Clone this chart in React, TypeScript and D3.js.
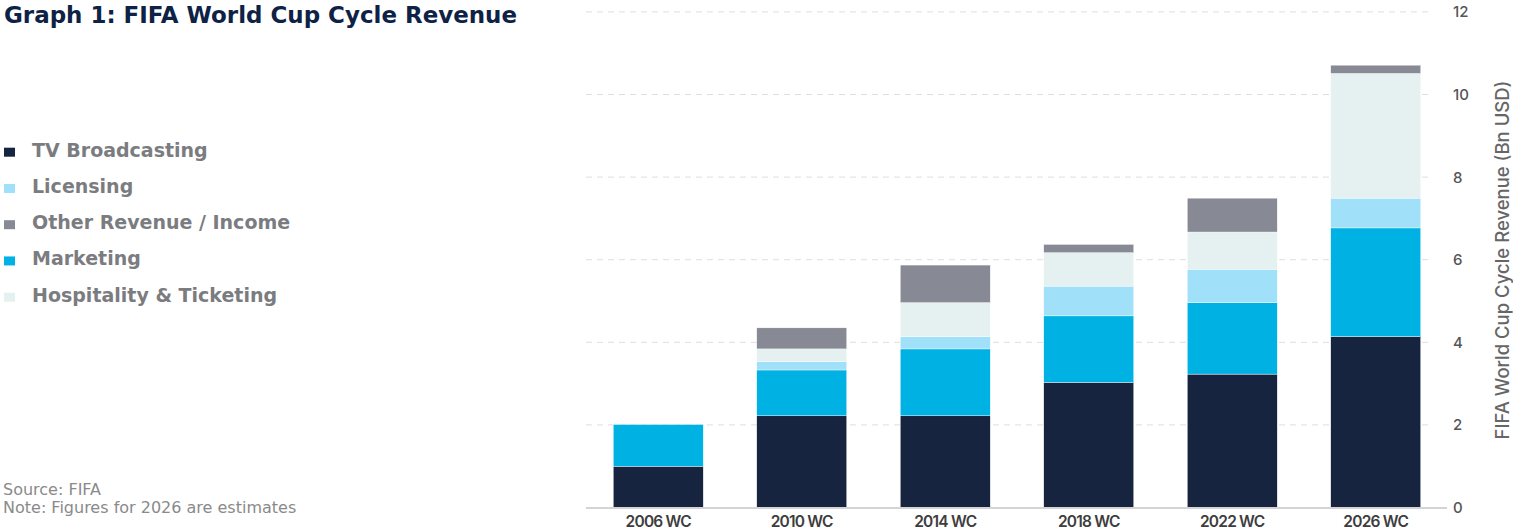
import React from 'react';
import * as d3 from 'd3';

const categories = ['2006 WC', '2010 WC', '2014 WC', '2018 WC', '2022 WC', '2026 WC'];
const tvBroadcasting = [1.0, 2.22, 2.22, 3.03, 3.23, 4.14];
const marketing = [1.01, 1.11, 1.62, 1.61, 1.73, 2.63];
const licensing = [0, 0.2, 0.3, 0.72, 0.81, 0.72];
const hospitality = [0, 0.31, 0.82, 0.81, 0.9, 3.02];
const otherRevenue = [0, 0.51, 0.91, 0.2, 0.82, 0.2];
const yTicks = [0, 2, 4, 6, 8, 10, 12];

// stacking order (bottom -> top)
const stackSeries = [
  { key: 'tv', values: tvBroadcasting, color: '#16243f' },
  { key: 'mkt', values: marketing, color: '#00b2e3' },
  { key: 'lic', values: licensing, color: '#a0e0f8' },
  { key: 'hosp', values: hospitality, color: '#e5f0f1' },
  { key: 'other', values: otherRevenue, color: '#878a94' },
];

const legendItems = [
  { label: 'TV Broadcasting', color: '#16243f' },
  { label: 'Licensing', color: '#a0e0f8' },
  { label: 'Other Revenue / Income', color: '#878a94' },
  { label: 'Marketing', color: '#00b2e3' },
  { label: 'Hospitality & Ticketing', color: '#e5f0f1' },
];

const W = 1513;
const H = 531;

const App = () => {
  const rows = categories.map((c, i) => {
    const r: any = { cat: c };
    stackSeries.forEach((s) => (r[s.key] = s.values[i]));
    return r;
  });
  const stacked = d3.stack().keys(stackSeries.map((s) => s.key))(rows);

  const x = d3
    .scaleBand()
    .domain(categories)
    .range([586, 1448])
    .paddingInner(0.373)
    .paddingOuter(0.19);
  const y = d3.scaleLinear().domain([0, 12]).range([507.5, 11.9]);

  return (
    <div style={{ position: 'absolute', left: 0, top: 0 }}>
      <svg width={W} height={H} style={{ display: 'block', background: '#fff' }}>
        <text
          x={4}
          y={23}
          fontFamily='DejaVu Sans'
          fontWeight='bold'
          fontSize={23}
          fill='#0e2245'
          textLength={513}
          lengthAdjust='spacingAndGlyphs'
        >
          Graph 1: FIFA World Cup Cycle Revenue
        </text>

        {legendItems.map((d, i) => {
          const by = 156.7 + i * 36.25;
          return (
            <g key={d.label}>
              <rect x={4} y={by - 9} width={11} height={9} fill={d.color} />
              <text
                x={32}
                y={by}
                fontFamily='DejaVu Sans'
                fontWeight='bold'
                fontSize={19}
                fill='#7b7c80'
              >
                {d.label}
              </text>
            </g>
          );
        })}

        <text x={3} y={495} fontFamily='DejaVu Sans' fontSize={16} fill='#8a8a8a'>
          Source: FIFA
        </text>
        <text x={3} y={513} fontFamily='DejaVu Sans' fontSize={16} fill='#8a8a8a'>
          Note: Figures for 2026 are estimates
        </text>

        {yTicks.slice(1).map((t) => (
          <line
            key={t}
            x1={586}
            x2={1432}
            y1={y(t)}
            y2={y(t)}
            stroke='#dedede'
            strokeWidth={1}
            strokeDasharray='6 5'
          />
        ))}

        {stacked.map((layer, li) => (
          <g key={layer.key} fill={stackSeries[li].color}>
            {layer.map((d, i) =>
              d[1] - d[0] > 0 ? (
                <rect
                  key={i}
                  x={x(categories[i])}
                  y={y(d[1])}
                  width={x.bandwidth()}
                  height={y(d[0]) - y(d[1])}
                  stroke='#ffffff'
                  strokeWidth={0.4}
                />
              ) : null
            )}
          </g>
        ))}

        <line x1={586} x2={1447} y1={508} y2={508} stroke='#d4d4d4' strokeWidth={2} />

        {categories.map((c) => (
          <text
            key={c}
            x={(x(c) as number) + x.bandwidth() / 2}
            y={527}
            textAnchor='middle'
            fontFamily='Inter'
            fontWeight={600}
            fontSize={15.5}
            fill='#3d3d3d'
            letterSpacing={-0.8}
          >
            {c}
          </text>
        ))}

        {yTicks.map((t) => (
          <text
            key={t}
            x={1453}
            y={y(t) + 5.5}
            fontFamily='Inter'
            fontWeight={500}
            fontSize={15}
            fill='#555'
          >
            {t}
          </text>
        ))}

        <text
          transform='translate(1509,260) rotate(-90)'
          textAnchor='middle'
          fontFamily='Inter'
          fontWeight={500}
          fontSize={18.5}
          fill='#666'
        >
          FIFA World Cup Cycle Revenue (Bn USD)
        </text>
      </svg>
    </div>
  );
};

export default App;
